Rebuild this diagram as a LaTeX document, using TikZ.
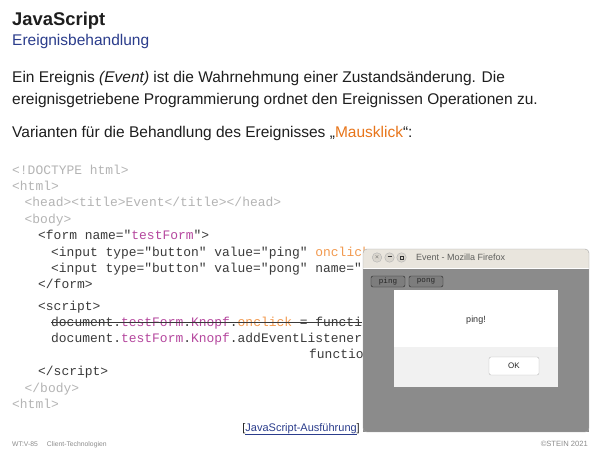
\documentclass[tikz,border=0pt]{standalone}
\usepackage{fontspec}
\setmainfont{Liberation Sans}
\setmonofont{Liberation Mono}

\definecolor{textdark}{HTML}{1E1E1E}
\definecolor{titleblue}{HTML}{2B3D8C}
\definecolor{codegray}{HTML}{B4B4B4}
\definecolor{codedark}{HTML}{3A3A3A}
\definecolor{jsmagenta}{HTML}{B5479E}
\definecolor{jsorange}{HTML}{F2994E}
\definecolor{accentorange}{HTML}{E8751A}
\definecolor{footgray}{HTML}{8C8C8C}
\definecolor{winbar}{HTML}{E9E5DD}
\definecolor{winbody}{HTML}{8B8B8B}
\definecolor{barbtn}{HTML}{DAD6CE}
\definecolor{pagebtnfill}{HTML}{7D7D7D}
\definecolor{dialoggray}{HTML}{F1F1F1}

\newcommand\jscodefont{\ttfamily\fontsize{12.95}{15}\selectfont}
\newcommand\jsid[1]{\textcolor{jsmagenta}{#1}}
\newcommand\jsev[1]{\textcolor{jsorange}{#1}}

\begin{document}
\begin{tikzpicture}[x=1pt, y=-1pt,
  code/.style = {anchor = base west, inner sep = 0pt, font = \jscodefont, text = codedark},
  codelight/.style = {code, text = codegray},
  bodytext/.style = {anchor = base west, inner sep = 0pt, font = \fontsize{15.5}{18}\selectfont, text = textdark},
  winbtn/.style = {circle, draw = gray!60, fill = barbtn, minimum size = 9.5pt, inner sep = 0pt, font = \fontsize{5}{5}\selectfont, text = gray!40!black},
  pagebtn/.style = {draw = gray!30!black, fill = pagebtnfill, rounded corners = 2pt, minimum width = 34pt, minimum height = 11pt, inner sep = 0pt, font = \ttfamily\fontsize{7.6}{8}\selectfont, text = black!85}
]
\useasboundingbox[fill = white] (0,0) rectangle (600,450);

% heading
\node[anchor = base west, inner sep = 0pt, font = \bfseries\fontsize{18.4}{22}\selectfont, text = textdark] (title) at (12,25) {JavaScript};
\node[anchor = base west, inner sep = 0pt, font = \fontsize{15.5}{18}\selectfont, text = titleblue] (subtitle) at (12,45) {Ereignisbehandlung};

% text
\node[bodytext] (intro1) at (12,82) {Ein Ereignis \textit{(Event)} ist die Wahrnehmung einer Zustandsänderung. Die};
\node[bodytext] (intro2) at (12,104) {ereignisgetriebene Programmierung ordnet den Ereignissen Operationen zu.};
\node[bodytext] (variants) at (12,137) {Varianten für die Behandlung des Ereignisses „\textcolor{accentorange}{Mausklick}“:};

% code (lines end where the browser window covers them)
\node[codelight] (l1) at (12,174) {<!DOCTYPE html>};
\node[codelight] (l2) at (12,190) {<html>};
\node[codelight] (l3) at (24.5,206) {<head><title>Event</title></head>};
\node[codelight] (l4) at (24.5,223) {<body>};
\node[code] (l5) at (38,239) {<form name="\jsid{testForm}">};
\node[code] (l6) at (51,256) {<input type="button" value="ping" \jsev{onclick}};
\node[code] (l7) at (51,272) {<input type="button" value="pong" name="};
\node[code] (l8) at (38,288) {</form>};
\node[code] (l9) at (38,310) {<script>};
\node[code] (l10) at (51,326.5) {document.\jsid{testForm}.\jsid{Knopf}.\jsev{onclick} = functi};
\draw[codedark, thick] ([yshift = 4pt]l10.base west) -- ([yshift = 4pt]l10.base east);
\node[code] (l11) at (51,342.5) {document.\jsid{testForm}.\jsid{Knopf}.addEventListener};
\node[code] (l12) at (309,358.5) {functio};
\node[code] (l13) at (38,375) {</script>};
\node[codelight] (l14) at (24.5,392) {</body>};
\node[codelight] (l15) at (12,408) {<html>};

% browser window
\fill[winbody] (363,268) rectangle (589,432);
\fill[winbar] (363,268) [rounded corners = 4pt] -- (363,249) -- (589,249) [sharp corners] -- (589,268) -- cycle;
\draw[white, line width = 1pt] (363,268.5) -- (589,268.5);
\draw[gray!70, rounded corners = 4pt] (363,432) -- (363,249) -- (589,249) -- (589,432) -- cycle;
\node[winbtn] (close) at (377,257.5) {$\times$};
\node[winbtn] (minim) at (389.5,257.5) {\rule[0.5ex]{4pt}{0.8pt}};
\node[winbtn] (maxim) at (401.5,257.5) {\tikz\draw[line width = 0.6pt] (0,0) rectangle (3pt,3pt);};
\node[anchor = west, inner sep = 0pt, font = \fontsize{9}{9}\selectfont, text = gray!70!winbar!60!black] (wintitle) at (416,257.5) {Event - Mozilla Firefox};
\node[pagebtn] (ping) at (388,281.5) {ping};
\node[pagebtn] (pong) at (426,281.5) {pong};

% alert dialog
\fill[black!45] (395.5,291.5) rectangle (559.5,388.5);
\fill[white] (394,290) rectangle (558,387);
\fill[dialoggray] (394,347) rectangle (558,387);
\node[font = \fontsize{9}{9}\selectfont, text = black!80] (msg) at (476,320) {ping!};
\node[draw = gray!55, fill = white, rounded corners = 2pt, minimum width = 50pt, minimum height = 18pt, inner sep = 0pt, font = \fontsize{8}{8}\selectfont, text = black!85] (ok) at (514,366) {OK};

% link and footer
\node[anchor = base east, inner sep = 0pt, font = \fontsize{11}{13}\selectfont, text = textdark] (link) at (360,431) {[\textcolor{titleblue}{\underline{JavaScript-Ausführung}}]};
\node[anchor = base west, inner sep = 0pt, font = \fontsize{6.8}{8}\selectfont, text = footgray] (foot) at (12,446) {WT:V-85\hspace{9pt}Client-Technologien};
\node[anchor = base east, inner sep = 0pt, font = \fontsize{7.6}{8}\selectfont, text = footgray] (copy) at (588,446) {©STEIN 2021};
\end{tikzpicture}
\end{document}
